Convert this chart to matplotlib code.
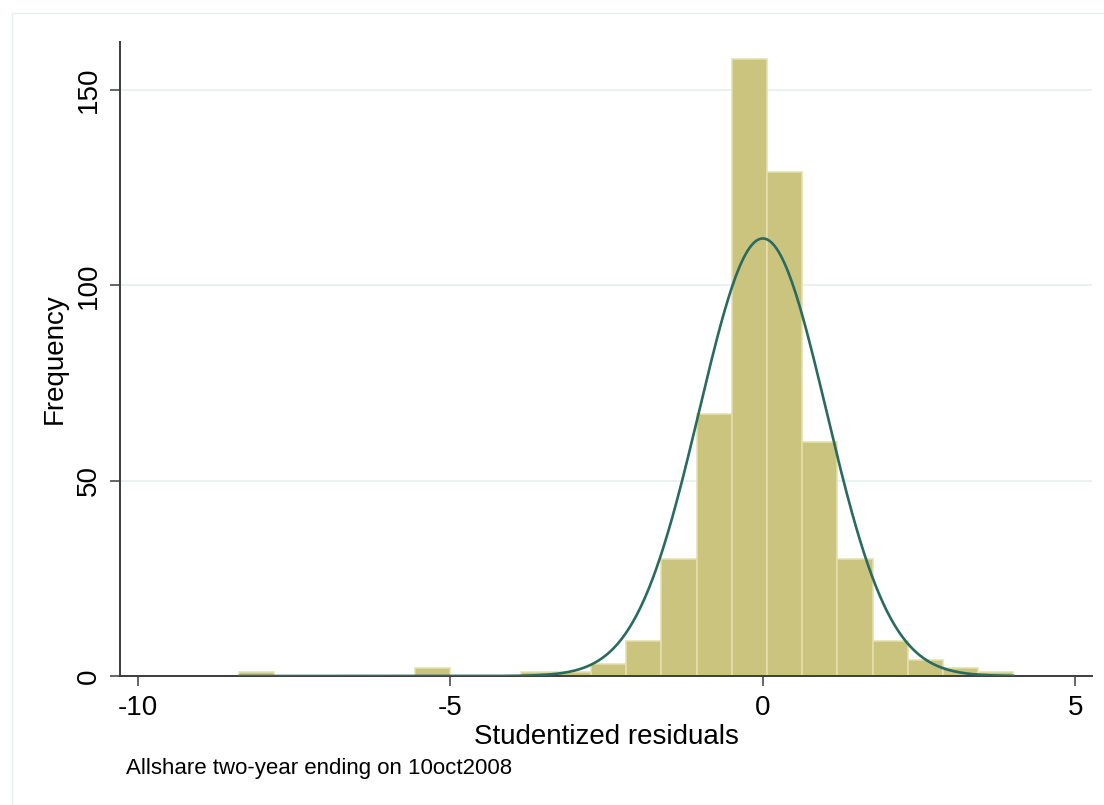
"""Histogram of studentized residuals with a normal overlay (Stata look)."""

import numpy as np
import matplotlib

matplotlib.use("Agg")
import matplotlib.pyplot as plt
from matplotlib.patches import Rectangle

plt.rcParams["font.family"] = ["Liberation Sans", "DejaVu Sans"]

# histogram: 22 bins starting at the minimum residual
bin_start = -8.38
bin_width = 0.5632
counts = [1, 0, 0, 0, 0, 2, 0, 0, 1, 1, 3, 9, 30, 67, 158, 129, 60, 30, 9, 4, 2, 1]

# normal density fitted to the residuals
norm_mean = 0.0
norm_sd = 1.017

x_ticks = [-10, -5, 0, 5]
y_ticks = [0, 50, 100, 150]
x_title = "Studentized residuals"
y_title = "Frequency"
note = "Allshare two-year ending on 10oct2008"

bar_color = "#cbc47e"
bar_edge = "#e4dfae"
line_color = "#2a6b60"
grid_color = "#e9f1f1"
axis_color = "#3c3c3c"

counts = np.array(counts)
edges = bin_start + bin_width * np.arange(len(counts) + 1)
n_obs = counts.sum()

fig = plt.figure(figsize=(11.04, 8.05), dpi=100, facecolor="white")
ax = fig.add_axes([120 / 1104, 129 / 805, 972 / 1104, 634 / 805])

# faint outer graph-region frame
fig.patches.append(
    Rectangle((12 / 1104, -0.1), 1.2, 0.1 + 792 / 805, transform=fig.transFigure,
              fill=False, edgecolor="#e6eeee", lw=1.0, zorder=0)
)

keep = counts > 0
ax.bar(edges[:-1][keep], counts[keep], width=bin_width, align="edge",
       color=bar_color, edgecolor=bar_edge, linewidth=1.1, zorder=2)

xs = np.linspace(edges[0], edges[-1], 400)
dens = n_obs * bin_width * np.exp(-0.5 * ((xs - norm_mean) / norm_sd) ** 2) / (norm_sd * np.sqrt(2 * np.pi))
ax.plot(xs, dens, color=line_color, lw=1.9, zorder=3)

ax.set_xlim(-10.29, 5.27)
ax.set_ylim(0, 162.3)
ax.set_xticks(x_ticks)
ax.set_xticklabels([str(t) for t in x_ticks])
ax.set_yticks(y_ticks)
ax.set_yticklabels([str(t) for t in y_ticks], rotation=90, va="center")

ax.yaxis.grid(True, color=grid_color, lw=1.5, zorder=0)
ax.set_axisbelow(True)

for side in ("top", "right"):
    ax.spines[side].set_visible(False)
for side in ("left", "bottom"):
    ax.spines[side].set_color(axis_color)
    ax.spines[side].set_linewidth(1.4)

ax.tick_params(axis="both", direction="out", length=7, width=1.1, color=axis_color,
               labelsize=20, labelcolor="black")
ax.tick_params(axis="x", pad=7)
ax.tick_params(axis="y", pad=6)

ax.set_xlabel(x_title, fontsize=20, va="top")
ax.xaxis.set_label_coords(0.5, -0.076)
fig.text(55 / 1104, (805 - 359) / 805, y_title, rotation=90, ha="center", va="center",
         fontsize=20)

fig.text(126 / 1104, (805 - 768) / 805, note, ha="left", va="center", fontsize=16)

fig.savefig("out.png", dpi=100, facecolor="white")
plt.close(fig)
